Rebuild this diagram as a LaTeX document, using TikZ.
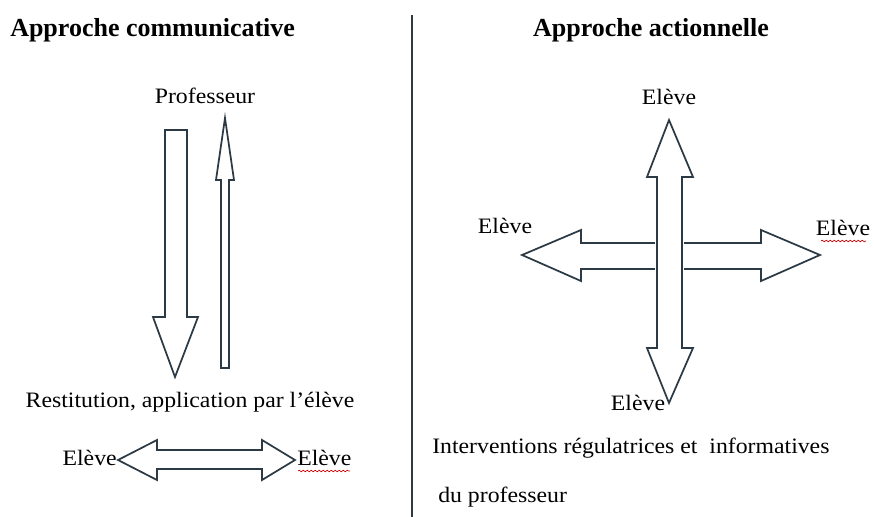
\documentclass[tikz,border=0pt]{standalone}
\usepackage{fontspec}
\setmainfont{Liberation Serif}
\usetikzlibrary{decorations.pathmorphing}
\definecolor{ink}{HTML}{2B3A44}
\begin{document}
\begin{tikzpicture}[x=0.75pt,y=-0.75pt,
  blockarrow/.style={draw=ink,line width=1.3pt,fill=white,line join=miter},
  gap/.style={draw=white,line width=3.5pt},
  lbl/.style={inner sep=0pt,text=black,xscale=1.08,font=\fontsize{16.5}{19}\selectfont},
  ttl/.style={inner sep=0pt,text=black,font=\fontsize{19.5}{23}\selectfont\bfseries},
  squiggle/.style={draw=red!80!black,line width=0.5pt,decorate,decoration={snake,amplitude=0.6pt,segment length=3pt}}]
\useasboundingbox (0,0) rectangle (874,517);
% divider
\draw[ink,line width=1.4pt] (412,15) -- (412,517);
% titles
\node[ttl,anchor=west] (t1) at (10,30) {Approche communicative};
\node[ttl] (t2) at (651,30) {Approche actionnelle};
% left panel
\node[lbl] (prof) at (205,96) {Professeur};
\draw[blockarrow] (165,130) -- (187,130) -- (187,317) -- (198,317) -- (175,377) -- (153,317) -- (165,317) -- cycle;
\draw[blockarrow] (221,368) -- (229,368) -- (229,180) -- (234,180) -- (225,118) -- (216,180) -- (221,180) -- cycle;
\node[lbl] (rest) at (190,402) {Restitution, application par l'élève};
\draw[blockarrow] (118,460) -- (157,440) -- (157,450) -- (262,450) -- (262,440) -- (295,460) -- (262,480) -- (262,469) -- (157,469) -- (157,480) -- cycle;
\node[lbl,anchor=east] (eL) at (117,458) {Elève};
\node[lbl,anchor=west] (eR) at (297,458) {Elève};
\draw[squiggle] (298,471) -- (350,471);
% right panel
\draw[blockarrow] (522,255) -- (581,230) -- (581,243) -- (761,243) -- (761,230) -- (820,255) -- (761,281) -- (761,269) -- (581,269) -- (581,281) -- cycle;
\draw[gap] (657,177) -- (657,348) (682,177) -- (682,348);
\fill[white] (657,177) rectangle (682,348);
\draw[blockarrow] (669,120) -- (693,177) -- (682,177) -- (682,348) -- (693,348) -- (669,403) -- (647,348) -- (657,348) -- (657,177) -- (647,177) -- cycle;
\node[lbl] (cT) at (669,97) {Elève};
\node[lbl] (cL) at (505,226) {Elève};
\node[lbl] (cR) at (843,228) {Elève};
\draw[squiggle] (821,241) -- (866,241);
\node[lbl] (cB) at (638,403) {Elève};
\node[lbl,anchor=west] (i1) at (432,448) {Interventions régulatrices et\ \ informatives};
\node[lbl,anchor=west] (i2) at (438,497) {du professeur};
\end{tikzpicture}
\end{document}
